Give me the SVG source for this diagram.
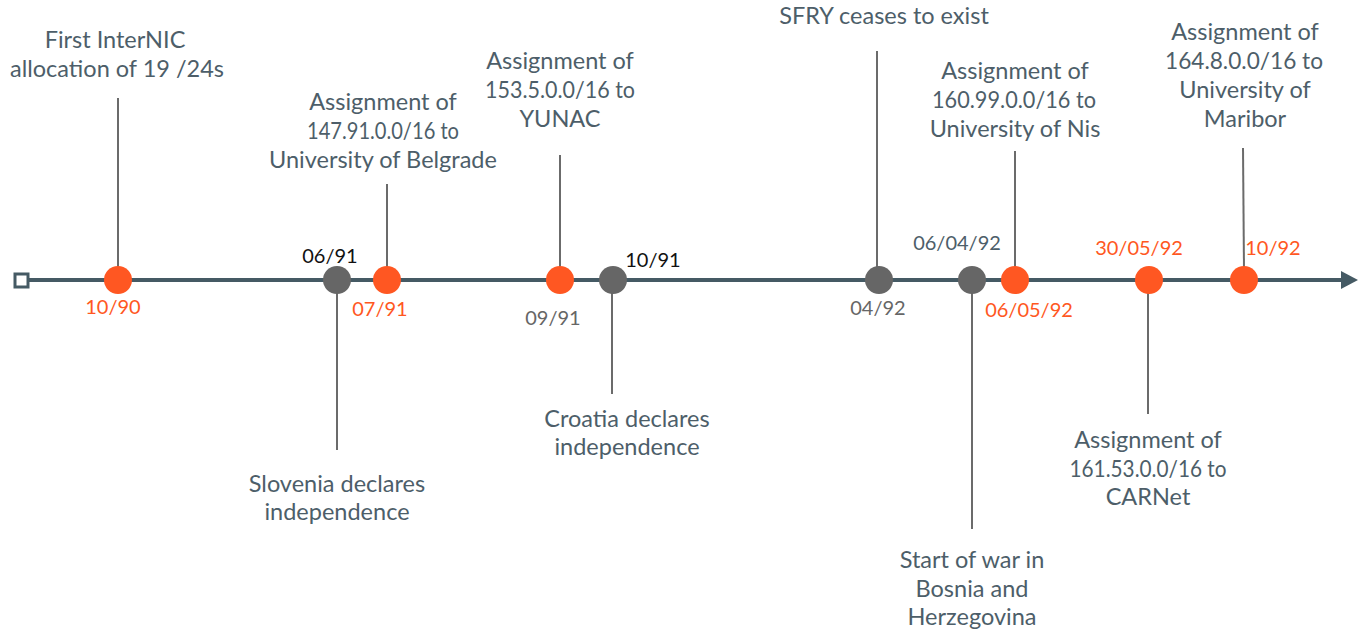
<svg xmlns="http://www.w3.org/2000/svg" width="1358" height="632" viewBox="0 0 1358 632">
<defs>
<style>
.t{font-family:Lato,"Open Sans",sans-serif;font-size:23.5px;fill:#4d5e69;text-anchor:middle}
.d{font-family:Lato,"Open Sans",sans-serif;font-size:20px;text-anchor:middle}
.o{fill:#ff5722}
.g{fill:#666666}
.k{fill:#111111}
.s{fill:#4d5e69}
.stem{stroke:#6b6b6b;stroke-width:2;fill:none}
.dotO{fill:#ff5722}
.dotG{fill:#666666}
</style>
</defs>
<rect width="1358" height="632" fill="#ffffff"/>
<g id="axis">
<line x1="29" y1="280" x2="1344" y2="280" stroke="#455a64" stroke-width="4"/>
<path d="M1341,271 L1358,280 L1341,289 Z" fill="#455a64"/>
<rect x="15" y="274" width="13" height="13" fill="#ffffff" stroke="#455a64" stroke-width="3"/>
</g>
<g id="connectors">
<line class="stem" x1="118" y1="98" x2="118" y2="268"/>
<line class="stem" x1="387" y1="184" x2="387" y2="268"/>
<line class="stem" x1="337" y1="292" x2="337" y2="450"/>
<line class="stem" x1="560" y1="155" x2="560" y2="268"/>
<line class="stem" x1="612" y1="292" x2="612" y2="394"/>
<line class="stem" x1="877" y1="51" x2="877" y2="268"/>
<line class="stem" x1="1015" y1="151" x2="1015" y2="268"/>
<line class="stem" x1="1243" y1="148" x2="1244" y2="270"/>
<line class="stem" x1="972" y1="292" x2="972" y2="529"/>
<line class="stem" x1="1148" y1="292" x2="1148" y2="414"/>
</g>
<g id="n1090">
<circle class="dotO" cx="118" cy="280" r="14"/>
<text class="d o" x="113" y="314">10/90</text>
<text class="t" x="115" y="48">First InterNIC</text>
<text class="t" x="117" y="77">allocation of 19 /24s</text>
</g>
<g id="n0691">
<circle class="dotG" cx="337" cy="280" r="14"/>
<text class="d k" x="330" y="263">06/91</text>
<text class="t" x="337" y="492">Slovenia declares</text>
<text class="t" x="337" y="520">independence</text>
</g>
<g id="n0791">
<circle class="dotO" cx="387" cy="280" r="14"/>
<text class="d o" x="380" y="316">07/91</text>
<text class="t" x="383" y="110">Assignment of</text>
<text class="t" x="383" y="139" textLength="152" lengthAdjust="spacingAndGlyphs">147.91.0.0/16 to</text>
<text class="t" x="383" y="168">University of Belgrade</text>
</g>
<g id="n0991">
<circle class="dotO" cx="560" cy="280" r="14"/>
<text class="d g" x="553" y="325">09/91</text>
<text class="t" x="560" y="69">Assignment of</text>
<text class="t" x="560" y="98" textLength="150" lengthAdjust="spacingAndGlyphs">153.5.0.0/16 to</text>
<text class="t" x="560" y="127">YUNAC</text>
</g>
<g id="n1091">
<circle class="dotG" cx="613" cy="280" r="14"/>
<text class="d k" x="653" y="267">10/91</text>
<text class="t" x="627" y="427">Croatia declares</text>
<text class="t" x="627" y="455">independence</text>
</g>
<g id="n0492">
<circle class="dotG" cx="879" cy="280" r="14"/>
<text class="d g" x="878" y="315">04/92</text>
<text class="t" x="884" y="24">SFRY ceases to exist</text>
</g>
<g id="n060492">
<circle class="dotG" cx="972" cy="280" r="14"/>
<text class="d s" x="957" y="250">06/04/92</text>
<text class="t" x="972" y="568">Start of war in</text>
<text class="t" x="972" y="597">Bosnia and</text>
<text class="t" x="972" y="625">Herzegovina</text>
</g>
<g id="n060592">
<circle class="dotO" cx="1015" cy="280" r="14"/>
<text class="d o" x="1029" y="317">06/05/92</text>
<text class="t" x="1015" y="79">Assignment of</text>
<text class="t" x="1014" y="108" textLength="164" lengthAdjust="spacingAndGlyphs">160.99.0.0/16 to</text>
<text class="t" x="1015" y="137">University of Nis</text>
</g>
<g id="n300592">
<circle class="dotO" cx="1149" cy="280" r="14"/>
<text class="d o" x="1139" y="255">30/05/92</text>
<text class="t" x="1148" y="448">Assignment of</text>
<text class="t" x="1148" y="477" textLength="157" lengthAdjust="spacingAndGlyphs">161.53.0.0/16 to</text>
<text class="t" x="1148" y="505">CARNet</text>
</g>
<g id="n1092">
<circle class="dotO" cx="1244" cy="280" r="14"/>
<text class="d o" x="1273" y="255">10/92</text>
<text class="t" x="1245" y="40">Assignment of</text>
<text class="t" x="1244" y="69" textLength="158" lengthAdjust="spacingAndGlyphs">164.8.0.0/16 to</text>
<text class="t" x="1245" y="98">University of</text>
<text class="t" x="1245" y="127">Maribor</text>
</g>
</svg>
